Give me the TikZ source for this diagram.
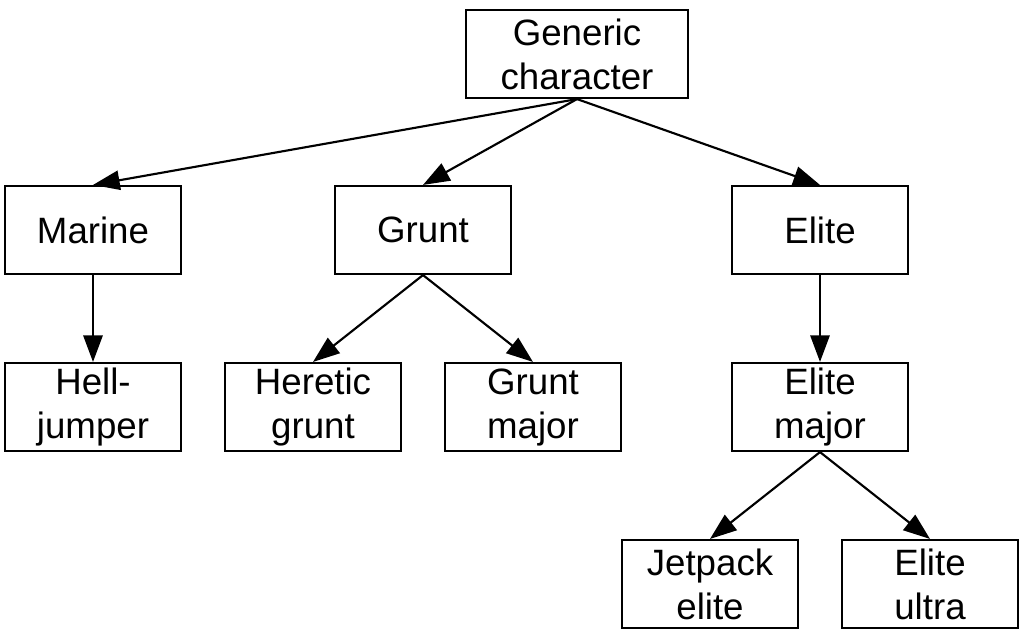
\documentclass[tikz,border=0pt]{standalone}
\usepackage{fontspec}
\setmainfont{Liberation Sans}
\usetikzlibrary{arrows.meta}
\begin{document}
\begin{tikzpicture}[x=0.75pt,y=-0.75pt,
  box/.style={draw=black,line width=1.6pt,minimum width=132pt,minimum height=66pt,inner sep=0pt,align=center,
    font=\fontsize{27.5}{33}\selectfont},
  wide/.style={minimum width=166pt},
  link/.style={line width=1.6pt,-{Triangle[length=20pt,width=14.5pt]}}]
\useasboundingbox[fill=white] (0,0) rectangle (1024,633);
\node[box,wide] (gen) at (577,54) {Generic\\character};
\node[box] (mar) at (93,230) {Marine};
\node[box] (gru) at (423,230) {Grunt};
\node[box] (eli) at (820,230) {Elite};
\node[box] (hel) at (93,407) {Hell-\\jumper};
\node[box] (her) at (313,407) {Heretic\\grunt};
\node[box] (gmj) at (533,407) {Grunt\\major};
\node[box] (emj) at (820,407) {Elite\\major};
\node[box] (jet) at (710,584) {Jetpack\\elite};
\node[box] (ult) at (930,584) {Elite\\ultra};
\draw[link] (gen.south) -- (mar.north);
\draw[link] (gen.south) -- (gru.north);
\draw[link] (gen.south) -- (eli.north);
\draw[link] (mar.south) -- (hel.north);
\draw[link] (gru.south) -- (her.north);
\draw[link] (gru.south) -- (gmj.north);
\draw[link] (eli.south) -- (emj.north);
\draw[link] (emj.south) -- (jet.north);
\draw[link] (emj.south) -- (ult.north);
\end{tikzpicture}
\end{document}
